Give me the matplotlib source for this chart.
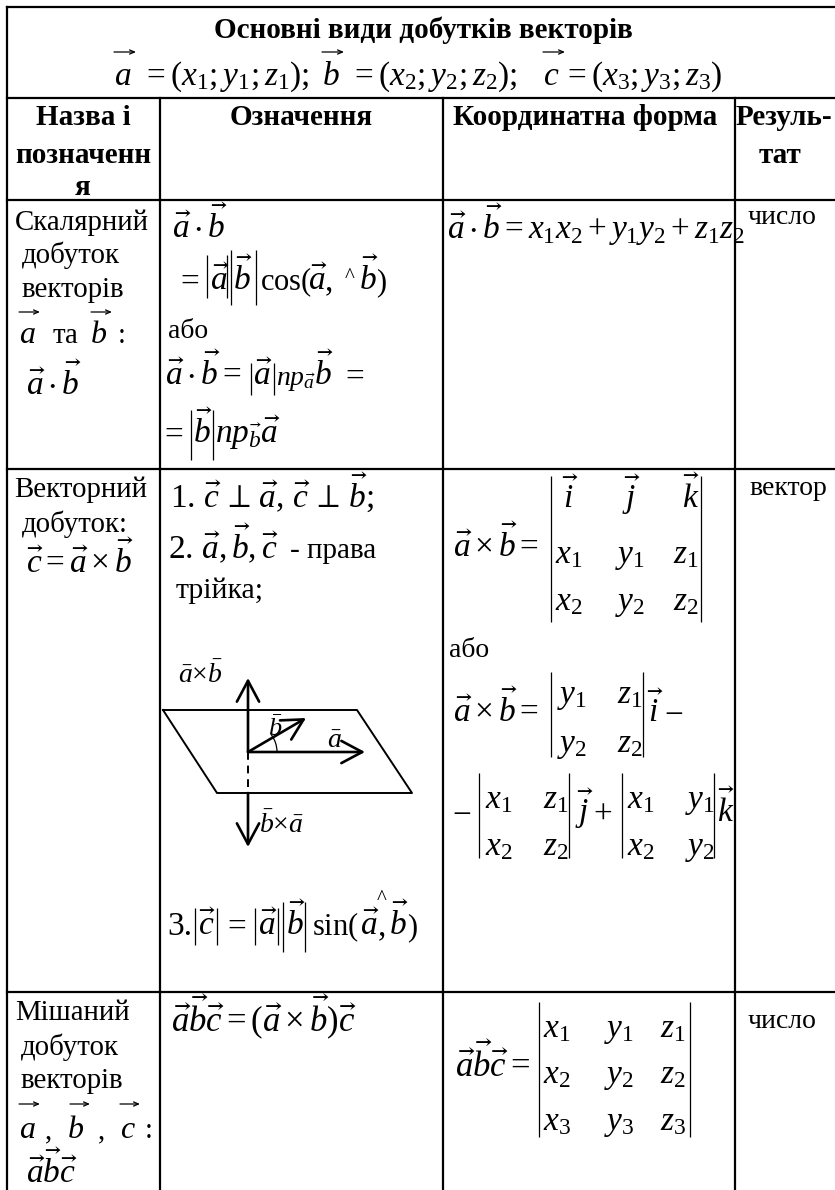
# -*- coding: utf-8 -*-
import matplotlib
matplotlib.use('Agg')
import matplotlib.pyplot as plt
from matplotlib.patches import Arc

plt.rcParams['font.family'] = ['Liberation Serif', 'DejaVu Serif']
plt.rcParams['mathtext.fontset'] = 'custom'
plt.rcParams['mathtext.rm'] = 'Liberation Serif'
plt.rcParams['mathtext.it'] = 'Liberation Serif:italic'
plt.rcParams['mathtext.bf'] = 'Liberation Serif:bold'
plt.rcParams['mathtext.fallback'] = 'stix'

title = 'Основні види добутків векторів'
coords_a = r'$=(x_1;y_1;z_1);$'
coords_b = r'$=(x_2;y_2;z_2);$'
coords_c = r'$=(x_3;y_3;z_3)$'
header_name = ['Назва і', 'позначенн', 'я']
header_def = 'Означення'
header_coord = 'Координатна форма'
header_result = ['Резуль-', 'тат']

scalar_name = ['Скалярний', 'добуток', 'векторів']
vector_name = ['Векторний', 'добуток:']
mixed_name = ['Мішаний', 'добуток', 'векторів']
result_number = 'число'
result_vector = 'вектор'
word_or = 'або'
word_right = '- права'
word_triple = 'трійка;'

vec_a = r'$\vec{a}$'
vec_b = r'$\vec{b}$'
vec_c = r'$\vec{c}$'
dot_ab = r'$\vec{a}\cdot\vec{b}$'
dot_ab_eq = r'$\vec{a}\cdot\vec{b}=$'
cos_part = r'$\mathrm{cos}($'
sin_part = r'$\mathrm{sin}($'
proj_a = r'$np_{\vec{a}}$'
proj_b = r'$np_{\vec{b}}\vec{a}$'
scalar_coord = r'$\vec{a}\cdot\vec{b}=x_1x_2+y_1y_2+z_1z_2$'
perp_line = r'1. $\vec{c}\,\perp\,\vec{a},\,\vec{c}\,\perp\,\vec{b};$'
triple_line = r'2. $\vec{a},\vec{b},\vec{c}$'
vector_eq = r'$\vec{c}=\vec{a}\times\vec{b}$'
cross_eq = r'$\vec{a}\times\vec{b}=$'
mixed_eq = r'$\vec{a}\vec{b}\vec{c}=$'
mixed_def = r'$\vec{a}\vec{b}\vec{c}=(\vec{a}\times\vec{b})\vec{c}$'
mixed_short = r'$\vec{a}\vec{b}\vec{c}$'

det_unit = [r'$\vec{i}$', r'$\vec{j}$', r'$\vec{k}$']
det_x = ['$x_1$', '$x_2$', '$x_3$']
det_y = ['$y_1$', '$y_2$', '$y_3$']
det_z = ['$z_1$', '$z_2$', '$z_3$']

label_axb = r'$\bar{a}{\times}\bar{b}$'
label_bxa = r'$\bar{b}{\times}\bar{a}$'
label_a = r'$\bar{a}$'
label_b = r'$\bar{b}$'

col_x = [7, 160, 443, 735]
row_y = [7, 98, 200, 469, 992]

fig = plt.figure(figsize=(8.35, 11.9), dpi=100)
ax = fig.add_axes([0, 0, 1, 1])
ax.set_xlim(0, 835)
ax.set_ylim(1190, 0)
ax.axis('off')

M = 24  # formula size
W = 20.8  # words in the first columns


def t(x, y, s, size=M, **kw):
    ax.text(x, y, s, fontsize=size, ha=kw.pop('ha', 'left'), va='baseline', color='black', **kw)


def over(x0, x1, y):
    ax.annotate('', xy=(x1, y), xytext=(x0, y),
                arrowprops=dict(arrowstyle='->,head_length=0.35,head_width=0.15', lw=0.9,
                                color='black', shrinkA=0, shrinkB=0))


def bar(x, y0, y1):
    ax.plot([x, x], [y0, y1], color='black', lw=0.9, solid_capstyle='butt')


def det(x0, x1, y0, y1):
    bar(x0, y0, y1)
    bar(x1, y0, y1)


def arrow(p0, p1, lw=1.9):
    ax.annotate('', xy=p1, xytext=p0,
                arrowprops=dict(arrowstyle='->,head_length=0.75,head_width=0.4', lw=lw,
                                color='black', shrinkA=0, shrinkB=0, mutation_scale=20))


# grid
ax.plot([7, 835], [row_y[0], row_y[0]], color='black', lw=1.6)
for y in row_y[1:]:
    ax.plot([7, 835], [y, y], color='black', lw=1.6)
ax.plot([7, 7], [7, 1190], color='black', lw=1.6)
for x in col_x[1:]:
    ax.plot([x, x], [98, 1190], color='black', lw=1.6)

# title block
t(423, 38, title, 21, fontweight='bold', ha='center')
t(114, 85, '$a$')
t(322, 85, '$b$')
t(543, 85, '$c$')
over(114, 136, 52)
over(322, 344, 52)
over(543, 565, 52)
t(142, 85, coords_a)
t(350, 85, coords_b)
t(563, 85, coords_c)

# header
t(83, 125, header_name[0], 21, fontweight='bold', ha='center')
t(83, 163, header_name[1], 21, fontweight='bold', ha='center')
t(83, 195, header_name[2], 21, fontweight='bold', ha='center')
t(301, 125, header_def, 21, fontweight='bold', ha='center')
t(585, 125, header_coord, 21, fontweight='bold', ha='center')
t(784, 125, header_result[0], 21, fontweight='bold', ha='center')
t(780, 163, header_result[1], 21, fontweight='bold', ha='center')

# scalar row
t(15, 230, scalar_name[0], W)
t(22, 263, scalar_name[1], W)
t(22, 297, scalar_name[2], W)
t(19, 343, '$a$', 23)
over(19, 40, 312)
t(53, 343, 'та', W)
t(90, 343, '$b$', 23)
over(91, 112, 312)
t(118, 343, ':', W)
t(26, 395, dot_ab)
t(172, 238, dot_ab)

t(176, 290, '$=$')
bar(207, 255, 298)
t(210, 290, vec_a)
bar(227, 255, 298)
bar(231, 250, 305)
t(233, 290, vec_b)
bar(256, 250, 305)
t(260, 290, cos_part, 22)
t(308, 290, vec_a)
t(325, 290, ',')
t(345, 282, '^', 15)
t(359, 290, vec_b)
t(376, 290, ')', 22)

t(168, 338, word_or, 20)
t(165, 385, dot_ab_eq)
bar(251, 363, 395)
t(253, 385, vec_a)
bar(274, 363, 395)
t(276, 385, proj_a, 20)
t(314, 385, vec_b)
t(341, 385, '$=$')

t(160, 443, '$=$')
bar(191, 410, 460)
t(193, 443, vec_b)
bar(213, 410, 460)
t(215, 443, proj_b)
t(447, 239, scalar_coord)
t(748, 224, result_number, 20)

# vector row
t(14, 497, vector_name[0], W)
t(22, 532, vector_name[1], W)
t(26, 573, vector_eq)
t(170, 507, perp_line)
t(168, 558, triple_line)
t(290, 558, word_right, 21)
t(176, 598, word_triple, 21.5)

t(167, 935, '3.')
bar(195, 908, 945)
t(198, 935, vec_c)
bar(217, 908, 945)
t(223, 935, '$=$')
bar(255, 908, 945)
t(258, 935, vec_a)
bar(278, 908, 945)
bar(283, 902, 952)
t(286, 935, vec_b)
bar(305, 902, 952)
t(312, 935, sin_part, 22)
t(360, 935, vec_a)
t(378, 935, ',')
t(389, 935, vec_b)
t(407, 935, ')', 22)
t(377, 904, '^', 15)
t(749, 495, result_vector, 20)

# drawing
ax.plot([163, 357, 412, 217, 163], [710, 710, 793, 793, 710], color='black', lw=1.4)
arrow((248, 752), (248, 678))
arrow((248, 793), (248, 847))
ax.plot([248, 248], [752, 793], color='black', lw=1.4, ls=(0, (4, 3)))
arrow((248, 752), (365, 752))
arrow((248, 752), (306, 718))
ax.add_patch(Arc((248, 752), 58, 58, theta1=-38, theta2=0, color='black', lw=0.9))
t(178, 683, label_axb, 20)
t(268, 736, label_b, 19)
t(327, 748, label_a, 20)
t(259, 833, label_bxa, 20)

# cross product determinant
t(453, 557, cross_eq)
det(551, 701, 476, 622)
for x, s in zip([562, 622, 682], det_unit):
    t(x, 508, s)
for i in range(2):
    y = [563, 610][i]
    t(555, y, det_x[i])
    t(615, y, det_y[i])
    t(673, y, det_z[i])
t(449, 657, word_or, 20)
t(453, 722, cross_eq)
det(551, 643, 672, 757)
for i in range(2):
    y = [703, 752][i]
    t(557, y, det_y[i])
    t(617, y, det_z[i])
t(647, 722, det_unit[0])
t(664, 722, '$-$')
t(452, 822, '$-$')
det(479, 569, 773, 858)
det(622, 714, 773, 858)
for i in range(2):
    y = [808, 855][i]
    t(485, y, det_x[i])
    t(543, y, det_z[i])
    t(627, y, det_x[i])
    t(685, y, det_y[i])
t(575, 822, det_unit[1])
t(593, 822, '$+$')
t(717, 822, det_unit[2])

# mixed row
t(15, 1020, mixed_name[0], W)
t(21, 1055, mixed_name[1], W)
t(21, 1088, mixed_name[2], W)
t(19, 1138, '$a$', 23)
over(19, 40, 1104)
t(45, 1138, ',', W)
t(67, 1138, '$b$', 23)
over(70, 90, 1104)
t(98, 1138, ',', W)
t(120, 1138, '$c$', 23)
over(120, 140, 1104)
t(145, 1138, ':', W)
t(26, 1183, mixed_short)
t(171, 1032, mixed_def, 25)
t(455, 1077, mixed_eq, 25)
det(539, 690, 1002, 1137)
for i in range(3):
    y = [1037, 1083, 1130][i]
    t(543, y, det_x[i])
    t(604, y, det_y[i])
    t(660, y, det_z[i])
t(748, 1028, result_number, 20)

fig.savefig('out.png', dpi=100)
